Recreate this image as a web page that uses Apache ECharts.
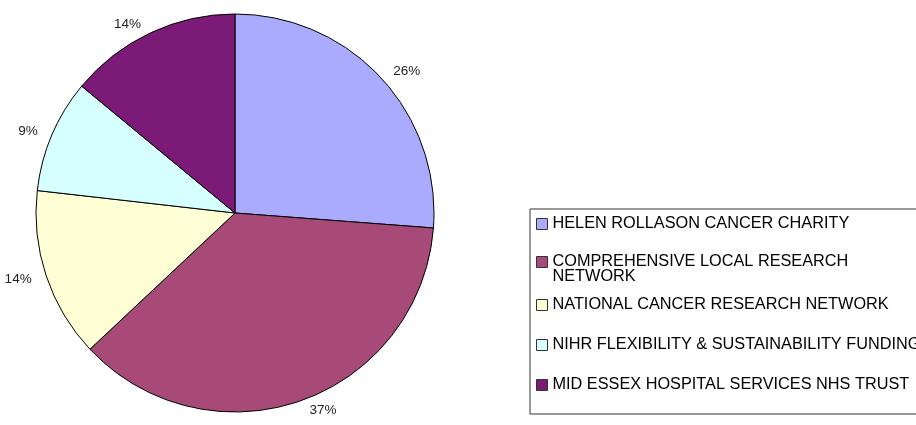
<!DOCTYPE html>
<html>
<head>
<meta charset="utf-8">
<title>Funding sources</title>
<script src="https://cdn.jsdelivr.net/npm/echarts@6/dist/echarts.min.js"></script>
<style>
  html, body { margin: 0; padding: 0; background: #fff; }
  #chart { width: 916px; height: 425px; }
</style>
</head>
<body>
<div id="chart"></div>
<script>
// funding split (percent)
const sources = [
  'HELEN ROLLASON CANCER CHARITY',
  'COMPREHENSIVE LOCAL RESEARCH NETWORK',
  'NATIONAL CANCER RESEARCH NETWORK',
  'NIHR FLEXIBILITY & SUSTAINABILITY FUNDING',
  'MID ESSEX HOSPITAL SERVICES NHS TRUST'
]
const shares = [26.2, 36.8, 13.8, 9.2, 14.0]
const sliceColors = ['#AAAAFF', '#A84A77', '#FFFFD6', '#D6FFFF', '#7B1A77']

const chart = echarts.init(document.getElementById('chart'), null, { renderer: 'canvas' })

// row heights of the legend (excel spaces them ~40px apart)
const rowHeight = (i) => {
  if (i === 0) return 30
  if (i === 1) return 15   // wrapped entry, 3 short lines
  return 40
}

// the long name wraps; leading blank line keeps the icon on the first line
const legendText = (name) => {
  if (name === sources[1]) return ' \nCOMPREHENSIVE LOCAL RESEARCH\nNETWORK'
  return name
}

const option = {
  animation: false,
  textStyle: { fontFamily: 'Liberation Sans, Arial, sans-serif' },
  legend: {
    orient: 'vertical',
    left: 530,
    top: 209,
    padding: [0, 6, 9, 6],
    itemGap: 0,
    itemWidth: 11,
    itemHeight: 11,
    icon: 'rect',
    borderColor: '#333',
    borderWidth: 1,
    selectedMode: false,
    itemStyle: { borderColor: '#333', borderWidth: 1 },
    formatter: legendText,
    textStyle: { color: '#000', fontSize: 16.3 },
    data: sources.map((name, i) => ({
      name: name,
      textStyle: { color: '#000', fontSize: 16.3, lineHeight: rowHeight(i) }
    }))
  },
  series: [
    {
      type: 'pie',
      center: [235, 213],
      radius: 199,
      startAngle: 90,
      clockwise: true,
      avoidLabelOverlap: false,
      percentPrecision: 0,
      emphasis: { disabled: true },
      itemStyle: { borderColor: '#000', borderWidth: 1 },
      label: {
        show: true,
        position: 'outside',
        formatter: '{d}%',
        fontSize: 13.5,
        color: '#222',
        distanceToLabelLine: 5
      },
      labelLine: { show: false, length: 10, length2: 0 },
      data: sources.map((name, i) => ({
        name: name,
        value: shares[i],
        itemStyle: { color: sliceColors[i] }
      }))
    }
  ]
}

chart.setOption(option)
window.addEventListener('resize', () => chart.resize())
</script>
</body>
</html>
